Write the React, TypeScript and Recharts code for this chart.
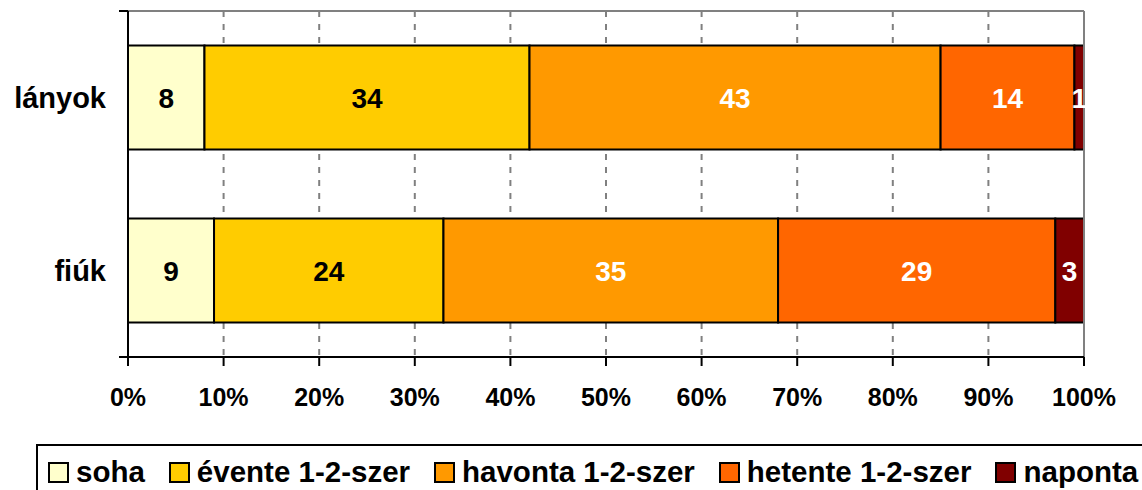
import {
  BarChart,
  Bar,
  XAxis,
  YAxis,
  CartesianGrid,
  LabelList,
  ReferenceLine,
} from "recharts";

const groups = ["lányok", "fiúk"];
const seriesNames = ["soha", "évente 1-2-szer", "havonta 1-2-szer", "hetente 1-2-szer", "naponta"];
const soha = [8, 9];
const evente = [34, 24];
const havonta = [43, 35];
const hetente = [14, 29];
const naponta = [1, 3];
const xTicks = [0, 10, 20, 30, 40, 50, 60, 70, 80, 90, 100];

const COLORS = ["#FFFFCC", "#FFCC00", "#FF9900", "#FF6600", "#800000"];
const LABEL_COLORS = ["#000", "#000", "#fff", "#fff", "#fff"];
const KEYS = ["s0", "s1", "s2", "s3", "s4"];
const FONT = "Arial, 'Liberation Sans', sans-serif";

const data = groups.map((name, i) => ({
  name,
  s0: soha[i],
  s1: evente[i],
  s2: havonta[i],
  s3: hetente[i],
  s4: naponta[i],
}));

const NoTick = () => <g />;

export default function App() {
  return (
    <div style={{ position: "absolute", left: 0, top: 0, width: 1142, height: 490, background: "#fff", fontFamily: FONT }}>
      <BarChart
        width={1142}
        height={490}
        data={data}
        layout="vertical"
        barCategoryGap="20%"
        margin={{ top: 11, right: 58, left: 0, bottom: 73 }}
      >
        {/* dashed verticals every 10% */}
        <CartesianGrid horizontal={false} stroke="#808080" strokeWidth={2} strokeDasharray="6 7" />
        {/* plot area top border */}
        <CartesianGrid
          vertical={false}
          horizontalCoordinatesGenerator={({ offset }: any) => [offset.top]}
          stroke="#808080"
          strokeWidth={2}
        />
        <XAxis
          type="number"
          domain={[0, 100]}
          ticks={xTicks}
          tickFormatter={(v) => `${v}%`}
          interval={0}
          axisLine={{ stroke: "#000", strokeWidth: 2 }}
          tickLine={{ stroke: "#000", strokeWidth: 2 }}
          tickSize={9}
          tickMargin={22}
          height={60}
          tick={{ fill: "#000", fontSize: 25, fontWeight: "bold", fontFamily: FONT }}
        />
        {/* left axis line with category boundary ticks */}
        <YAxis
          yAxisId="a_edge"
          type="number"
          domain={[0, 2]}
          ticks={[0, 1, 2]}
          interval={0}
          width={9}
          tick={NoTick}
          tickSize={9}
          tickLine={{ stroke: "#000", strokeWidth: 2 }}
          axisLine={{ stroke: "#000", strokeWidth: 2 }}
        />
        <YAxis
          yAxisId="cat"
          type="category"
          dataKey="name"
          width={119}
          tickLine={false}
          tickSize={0}
          tickMargin={13}
          axisLine={false}
          tick={{ fill: "#000", fontSize: 29, fontWeight: "bold", fontFamily: FONT }}
        />
        <ReferenceLine yAxisId="cat" x={100} stroke="#808080" strokeWidth={2} />
        {KEYS.map((k, i) => (
          <Bar key={k} yAxisId="cat" dataKey={k} stackId="a" fill={COLORS[i]} stroke="#000" strokeWidth={2} isAnimationActive={false}>
            <LabelList dataKey={k} position="center" fill={LABEL_COLORS[i]} fontSize={28} fontWeight="bold" fontFamily={FONT} />
          </Bar>
        ))}
      </BarChart>
      <div
        style={{
          position: "absolute",
          left: 36,
          top: 444,
          width: 1120,
          height: 60,
          border: "2px solid #000",
          boxSizing: "border-box",
          display: "flex",
          alignItems: "flex-start",
          paddingTop: 10,
          paddingLeft: 10,
          fontSize: 29.5,
          fontWeight: "bold",
          color: "#000",
          whiteSpace: "nowrap",
        }}
      >
        {seriesNames.map((n, i) => (
          <div key={n} style={{ display: "flex", alignItems: "center", marginRight: 24, lineHeight: "32px" }}>
            <span
              style={{
                display: "inline-block",
                width: 17,
                height: 17,
                background: COLORS[i],
                border: "2px solid #000",
                marginRight: 7,
              }}
            />
            <span>{n}</span>
          </div>
        ))}
      </div>
    </div>
  );
}
